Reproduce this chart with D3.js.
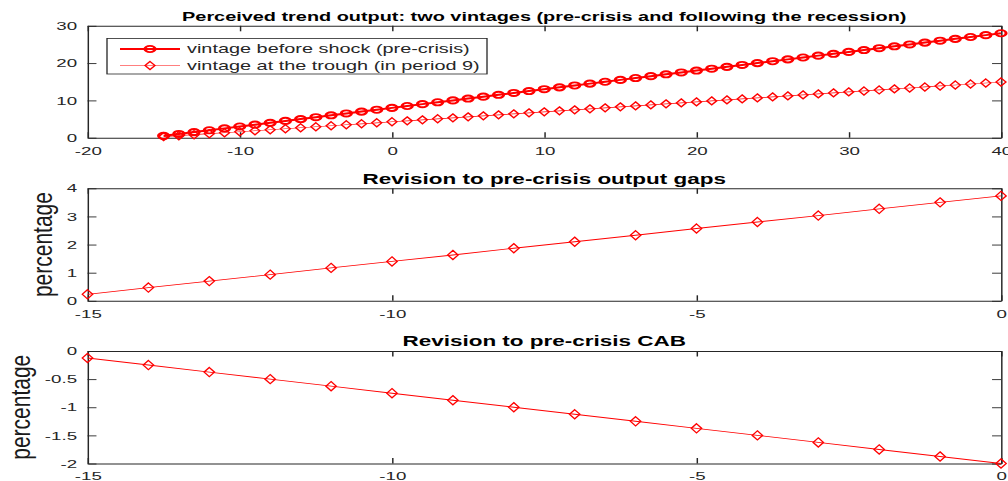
<!DOCTYPE html>
<html>
<head>
<meta charset="utf-8">
<script src="https://cdn.jsdelivr.net/npm/d3@7"></script>
<style>
  body { margin: 0; background: #fff; }
  svg { display: block; }
  text { font-family: "Liberation Sans", Arial, Helvetica, sans-serif; }
</style>
</head>
<body>
<svg id="chart" width="1008" height="481"></svg>
<script>
// ---- data ----
const periodsLong = [-15,-14,-13,-12,-11,-10,-9,-8,-7,-6,-5,-4,-3,-2,-1,0,1,2,3,4,5,6,7,8,9,10,
  11,12,13,14,15,16,17,18,19,20,21,22,23,24,25,26,27,28,29,30,31,32,33,34,35,36,37,38,39,40];
const trendBeforeShock = [0.5,1.0,1.5,2.0,2.5,3.0,3.5,4.0,4.5,5.0,5.5,6.0,6.5,7.0,7.5,8.0,
  8.5,9.0,9.5,10.0,10.5,11.0,11.5,12.0,12.5,13.0,13.5,14.0,14.5,15.0,15.5,16.0,16.5,17.0,17.5,18.0,
  18.5,19.0,19.5,20.0,20.5,21.0,21.5,22.0,22.5,23.0,23.5,24.0,24.5,25.0,25.5,26.0,26.5,27.0,27.5,28.0];
const trendAtTrough = [0.27,0.53,0.80,1.07,1.33,1.60,1.87,2.13,2.40,2.67,2.93,3.20,3.47,3.73,4.00,4.27,
  4.53,4.80,5.07,5.33,5.60,5.87,6.13,6.40,6.67,6.93,7.20,7.47,7.73,8.00,8.27,8.53,8.80,9.07,9.33,9.60,
  9.87,10.13,10.40,10.67,10.93,11.20,11.47,11.73,12.00,12.27,12.53,12.80,13.07,13.33,13.60,13.87,14.13,14.40,14.67,14.93];

const periodsShort = [-15,-14,-13,-12,-11,-10,-9,-8,-7,-6,-5,-4,-3,-2,-1,0];
const gapRevision = [0.23,0.47,0.70,0.93,1.17,1.40,1.63,1.87,2.10,2.33,2.57,2.80,3.03,3.27,3.50,3.73];
const cabRevision = [-0.125,-0.25,-0.375,-0.5,-0.625,-0.75,-0.875,-1.0,-1.125,-1.25,-1.375,-1.5,-1.625,-1.75,-1.875,-2.0];

const xTicksLong = [-20,-10,0,10,20,30,40];
const yTicksTrend = [0,10,20,30];
const xTicksShort = [-15,-10,-5,0];
const yTicksGap = [0,1,2,3,4];
const yTicksCab = [0,-0.5,-1,-1.5,-2];

const titleTrend = "Perceived trend output: two vintages (pre-crisis and following the recession)";
const titleGap = "Revision to pre-crisis output gaps";
const titleCab = "Revision to pre-crisis CAB";
const yLabelText = "percentage";
const legendLabels = ["vintage before shock (pre-crisis)", "vintage at the trough (in period 9)"];

// ---- layout ----
// The figure is drawn in a horizontally stretched frame (SX) like a widened export.
const SX = 1.63;
const px = v => v / SX;
const plotLeft = px(87.5), plotRight = px(1001);
const axisColor = "#262626";
const red = "#ff0000";

const svg = d3.select("#chart");
const stage = svg.append("g").attr("transform", `scale(${SX},1)`);
const overlay = svg.append("g");

function drawFrame(g, x, y, xTicks, yTicks, top, bottom) {
  const tick = 5.5;
  const fmt = d => String(d);
  const styleAxis = sel => {
    sel.selectAll(".domain").attr("stroke", axisColor).attr("stroke-width", 0.9);
    sel.selectAll(".tick line").attr("stroke", axisColor).attr("stroke-width", 0.9);
    sel.selectAll(".tick text").attr("fill", axisColor).attr("font-size", 11.5)
      .attr("font-family", '"Liberation Sans", Arial, sans-serif');
  };
  g.append("g").attr("transform", `translate(0,${bottom})`)
    .call(d3.axisBottom(x).tickValues(xTicks).tickFormat(fmt).tickSizeInner(-tick).tickSizeOuter(0).tickPadding(8.8))
    .call(styleAxis);
  g.append("g").attr("transform", `translate(0,${top})`)
    .call(d3.axisTop(x).tickValues(xTicks).tickFormat("").tickSizeInner(-tick).tickSizeOuter(0))
    .call(styleAxis);
  g.append("g").attr("transform", `translate(${plotLeft},0)`)
    .call(d3.axisLeft(y).tickValues(yTicks).tickFormat(fmt).tickSizeInner(-tick).tickSizeOuter(0).tickPadding(6.4))
    .call(styleAxis);
  g.append("g").attr("transform", `translate(${plotRight},0)`)
    .call(d3.axisRight(y).tickValues(yTicks).tickFormat("").tickSizeInner(-tick).tickSizeOuter(0))
    .call(styleAxis);
}

function drawTitle(g, text, size, baseline) {
  g.append("text")
    .attr("x", (plotLeft + plotRight) / 2).attr("y", baseline)
    .attr("text-anchor", "middle").attr("font-weight", "bold")
    .attr("font-size", size).attr("fill", "#000").text(text);
}

const diamondPath = (hw, hh) => `M0,${-hh}L${hw},0L0,${hh}L${-hw},0Z`;

function drawDiamonds(g, xs, ys, x, y, hw, hh, sw) {
  g.selectAll(null).data(xs).enter().append("path")
    .attr("d", diamondPath(hw, hh))
    .attr("transform", (d, i) => `translate(${x(d)},${y(ys[i])})`)
    .attr("fill", "none").attr("stroke", red).attr("stroke-width", sw);
}

function drawLine(g, xs, ys, x, y, width, color) {
  const line = d3.line().x(d => x(d[0])).y(d => y(d[1]));
  g.append("path").datum(xs.map((d, i) => [d, ys[i]]))
    .attr("d", line).attr("fill", "none")
    .attr("stroke", color).attr("stroke-width", width);
}

// y-axis caption, rotated; glyph height widened along the page's x direction
function drawYLabel(xBaseline, top, bottom) {
  overlay.append("text")
    .attr("transform", `translate(${xBaseline},${(top + bottom) / 2}) scale(1.3,1) rotate(-90)`)
    .attr("text-anchor", "middle").attr("font-size", 21).attr("fill", "#1a1a1a")
    .text(yLabelText);
}

// ---- panel 1: perceived trend output ----
{
  const top = 25.8, bottom = 137.7;
  const x = d3.scaleLinear().domain([-20, 40]).range([plotLeft, plotRight]);
  const y = d3.scaleLinear().domain([0, 30]).range([bottom, top]);
  const g = stage.append("g");
  drawFrame(g, x, y, xTicksLong, yTicksTrend, top, bottom);
  drawTitle(g, titleTrend, 12.2, 20.8);

  drawLine(g, periodsLong, trendBeforeShock, x, y, 2, red);
  g.selectAll(null).data(periodsLong).enter().append("circle")
    .attr("cx", d => x(d)).attr("cy", (d, i) => y(trendBeforeShock[i]))
    .attr("r", 3.1).attr("fill", "none").attr("stroke", red).attr("stroke-width", 1.9);

  drawLine(g, periodsLong, trendAtTrough, x, y, 0.7, red);
  drawDiamonds(g, periodsLong, trendAtTrough, x, y, 3.0, 4.0, 1.1);

  // legend
  const lg = g.append("g");
  const boxL = px(107), boxR = px(487), boxT = 38.5, boxB = 74;
  lg.append("rect").attr("x", boxL).attr("y", boxT)
    .attr("width", boxR - boxL).attr("height", boxB - boxT)
    .attr("fill", "#fff").attr("stroke", axisColor).attr("stroke-width", 0.8);
  const rows = [49, 65.5];
  const sx0 = px(120), sx1 = px(180), mx = px(150), tx = px(187);
  lg.append("line").attr("x1", sx0).attr("x2", sx1).attr("y1", rows[0]).attr("y2", rows[0])
    .attr("stroke", red).attr("stroke-width", 2);
  lg.append("circle").attr("cx", mx).attr("cy", rows[0]).attr("r", 3.1)
    .attr("fill", "none").attr("stroke", red).attr("stroke-width", 1.9);
  lg.append("line").attr("x1", sx0).attr("x2", sx1).attr("y1", rows[1]).attr("y2", rows[1])
    .attr("stroke", red).attr("stroke-width", 0.7);
  lg.append("path").attr("d", diamondPath(3.0, 4.0)).attr("transform", `translate(${mx},${rows[1]})`)
    .attr("fill", "none").attr("stroke", red).attr("stroke-width", 1.1);
  lg.selectAll(null).data(legendLabels).enter().append("text")
    .attr("x", tx).attr("y", (d, i) => rows[i] + 4.3)
    .attr("font-size", 12.2).attr("fill", axisColor).text(d => d);
}

// ---- panel 2: revision to output gaps ----
{
  const top = 188.3, bottom = 300.8;
  const x = d3.scaleLinear().domain([-15, 0]).range([plotLeft, plotRight]);
  const y = d3.scaleLinear().domain([0, 4]).range([bottom, top]);
  const g = stage.append("g");
  drawFrame(g, x, y, xTicksShort, yTicksGap, top, bottom);
  drawTitle(g, titleGap, 13.8, 184);
  drawLine(g, periodsShort, gapRevision, x, y, 0.9, red);
  drawDiamonds(g, periodsShort, gapRevision, x, y, 3.2, 4.6, 1);
  drawYLabel(51.5, top, bottom);
}

// ---- panel 3: revision to CAB ----
{
  const top = 351, bottom = 463.5;
  const x = d3.scaleLinear().domain([-15, 0]).range([plotLeft, plotRight]);
  const y = d3.scaleLinear().domain([-2, 0]).range([bottom, top]);
  const g = stage.append("g");
  drawFrame(g, x, y, xTicksShort, yTicksCab, top, bottom);
  drawTitle(g, titleCab, 13.8, 346.5);
  drawLine(g, periodsShort, cabRevision, x, y, 0.9, red);
  drawDiamonds(g, periodsShort, cabRevision, x, y, 3.2, 4.6, 1);
  drawYLabel(29.5, top, bottom);
}
</script>
</body>
</html>
